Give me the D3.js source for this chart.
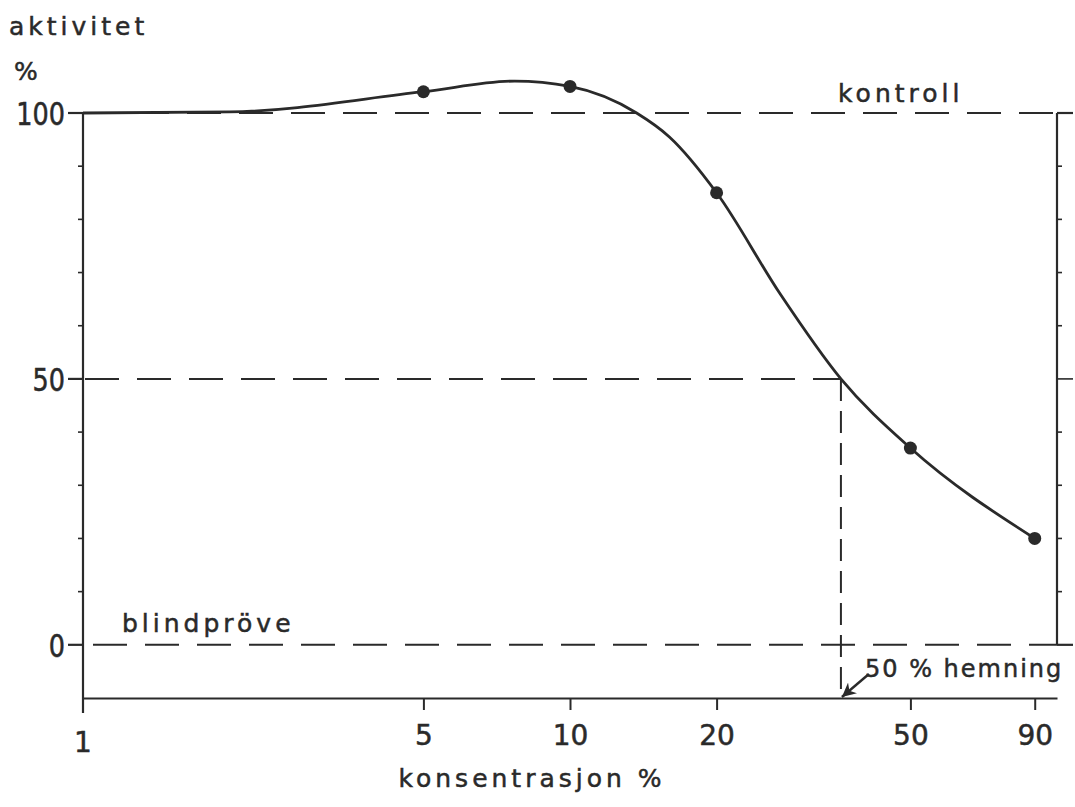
<!DOCTYPE html>
<html>
<head>
<meta charset="utf-8">
<script src="https://cdn.jsdelivr.net/npm/d3@7"></script>
<style>
  body { margin: 0; background: #fff; }
  svg text { font-family: "DejaVu Sans", sans-serif; fill: #2a2a2a; stroke: #2a2a2a; stroke-width: 0.5px; }
</style>
</head>
<body>
<div id="chart"></div>
<script>
// measured dots (konsentrasjon %, aktivitet %)
const pointX = [5, 10, 20, 50, 90];
const pointY = [104, 105, 85, 37, 20];

// points
const curveX = [1, 2, 5, 7.7, 10, 13.7, 16, 20, 27, 36, 50, 90];
const curveY = [100, 100.2, 104, 106, 105, 100, 95.5, 85, 66, 50, 37, 20];

const xTicks = [1, 5, 10, 20, 50, 90];
const yLabels = [0, 50, 100];
const yMinor = [10, 20, 30, 40, 50, 60, 70, 80, 90];

const halfX = 36;   // 50 % hemning
const ink = "#2a2a2a";

const width = 1075, height = 807;

const svg = d3.select("#chart").append("svg")
  .attr("width", width)
  .attr("height", height);

const x = d3.scaleLog().domain([1, 100]).range([83, 1057]);
const y = d3.scaleLinear().domain([-10, 100]).range([698, 113]);

const x0 = x(1), x1 = x(100);

// dashed reference lines
const dash = "34,18";
svg.append("line")
  .attr("x1", x0).attr("x2", x1)
  .attr("y1", y(100)).attr("y2", y(100))
  .attr("stroke", ink).attr("stroke-width", 2)
  .attr("stroke-dasharray", dash);

svg.append("line")
  .attr("x1", x0 + 10).attr("x2", x1)
  .attr("y1", y(0)).attr("y2", y(0))
  .attr("stroke", ink).attr("stroke-width", 2)
  .attr("stroke-dasharray", dash);

svg.append("line")
  .attr("x1", x0 + 2).attr("x2", x(halfX))
  .attr("y1", y(50)).attr("y2", y(50))
  .attr("stroke", ink).attr("stroke-width", 2)
  .attr("stroke-dasharray", dash);

svg.append("line")
  .attr("x1", x(halfX)).attr("x2", x(halfX))
  .attr("y1", y(50)).attr("y2", y(-10))
  .attr("stroke", ink).attr("stroke-width", 2)
  .attr("stroke-dasharray", "22,10");

// left axis
svg.append("line")
  .attr("x1", x0).attr("x2", x0)
  .attr("y1", y(100)).attr("y2", y(-10) + 15)
  .attr("stroke", ink).attr("stroke-width", 2.2);

svg.selectAll(".ytickMinor")
  .data(yMinor.filter(d => d != 50))
  .enter().append("line")
  .attr("x1", x0 - 5).attr("x2", x0)
  .attr("y1", d => y(d)).attr("y2", d => y(d))
  .attr("stroke", ink).attr("stroke-width", 1.6);

svg.selectAll(".ytick")
  .data(yLabels)
  .enter().append("line")
  .attr("x1", x0 - 15).attr("x2", x0)
  .attr("y1", d => y(d)).attr("y2", d => y(d))
  .attr("stroke", ink).attr("stroke-width", 2.2);

svg.selectAll(".ylabel")
  .data(yLabels)
  .enter().append("text")
  .attr("x", x0 - 18)
  .attr("y", d => y(d) + 11)
  .attr("text-anchor", "end")
  .attr("font-size", 29)
  .attr("transform", d => "translate(" + (x0 - 18) * 0.12 + "," + (-y(d)) * 0.12 + ") scale(0.88,1.12)")
  .text(d => d);

// right border with ticks
svg.append("line")
  .attr("x1", x1).attr("x2", x1)
  .attr("y1", y(100)).attr("y2", y(0))
  .attr("stroke", ink).attr("stroke-width", 2.2);

svg.selectAll(".rcap")
  .data([0, 100])
  .enter().append("line")
  .attr("x1", x1).attr("x2", x1 + 16)
  .attr("y1", d => y(d)).attr("y2", d => y(d))
  .attr("stroke", ink).attr("stroke-width", 2.2);

svg.selectAll(".rtick")
  .data(yMinor)
  .enter().append("line")
  .attr("x1", x1).attr("x2", d => d == 50 ? x1 + 16 : x1 + 5)
  .attr("y1", d => y(d)).attr("y2", d => y(d))
  .attr("stroke", ink).attr("stroke-width", 1.6);

// bottom axis
const xAxis = d3.axisBottom(x)
  .tickValues(xTicks.slice(1))
  .tickFormat(d3.format("d"))
  .tickSize(12)
  .tickSizeOuter(0);

const gx = svg.append("g")
  .attr("transform", "translate(0," + y(-10) + ")")
  .call(xAxis);

gx.select(".domain").attr("stroke", ink).attr("stroke-width", 2.2);
gx.selectAll(".tick line").attr("stroke", ink).attr("stroke-width", 2);
gx.selectAll(".tick text")
  .attr("font-family", "DejaVu Sans, sans-serif")
  .attr("font-size", 28)
  .attr("fill", ink)
  .attr("dy", "1.15em");

svg.append("text")
  .attr("x", x0)
  .attr("y", 752)
  .attr("text-anchor", "middle")
  .attr("font-size", 28)
  .text(xTicks[0]);

// curve
const line = d3.line()
  .x(d => x(d[0]))
  .y(d => y(d[1]))
  .curve(d3.curveMonotoneX);

svg.append("path")
  .datum(d3.zip(curveX, curveY))
  .attr("d", line)
  .attr("fill", "none")
  .attr("stroke", ink)
  .attr("stroke-width", 2.8);

svg.selectAll(".dot")
  .data(d3.zip(pointX, pointY))
  .enter().append("circle")
  .attr("cx", d => x(d[0]))
  .attr("cy", d => y(d[1]))
  .attr("r", 6.5)
  .attr("fill", ink);

// arrow for 50 % hemning
svg.append("defs").append("marker")
  .attr("id", "arrow")
  .attr("viewBox", "0 0 10 10")
  .attr("refX", 10).attr("refY", 5)
  .attr("markerWidth", 14).attr("markerHeight", 14)
  .attr("markerUnits", "userSpaceOnUse")
  .attr("orient", "auto")
  .append("path")
  .attr("d", "M0,0 L10,5 L0,10 L3,5 Z")
  .attr("fill", ink);

svg.append("line")
  .attr("x1", x(halfX) + 28).attr("y1", y(-10) - 24)
  .attr("x2", x(halfX) + 1).attr("y2", y(-10) - 1)
  .attr("stroke", ink).attr("stroke-width", 2.4)
  .attr("marker-end", "url(#arrow)");

// labels
const spaced = "4px";
svg.append("text")
  .attr("x", 9).attr("y", 35)
  .attr("font-size", 25)
  .attr("letter-spacing", spaced)
  .text("aktivitet");

svg.append("text")
  .attr("x", 14).attr("y", 80)
  .attr("font-size", 25)
  .text("%");

svg.append("text")
  .attr("x", 838).attr("y", 102)
  .attr("font-size", 25)
  .attr("letter-spacing", spaced)
  .text("kontroll");

svg.append("text")
  .attr("x", 122).attr("y", 632)
  .attr("font-size", 25)
  .attr("letter-spacing", spaced)
  .text("blindpröve");

svg.append("text")
  .attr("x", 865).attr("y", 677)
  .attr("font-size", 24)
  .attr("letter-spacing", "2px")
  .text("50 % hemning");

svg.append("text")
  .attr("x", 532).attr("y", 787)
  .attr("text-anchor", "middle")
  .attr("font-size", 25)
  .attr("letter-spacing", spaced)
  .text("konsentrasjon %");
</script>
</body>
</html>
